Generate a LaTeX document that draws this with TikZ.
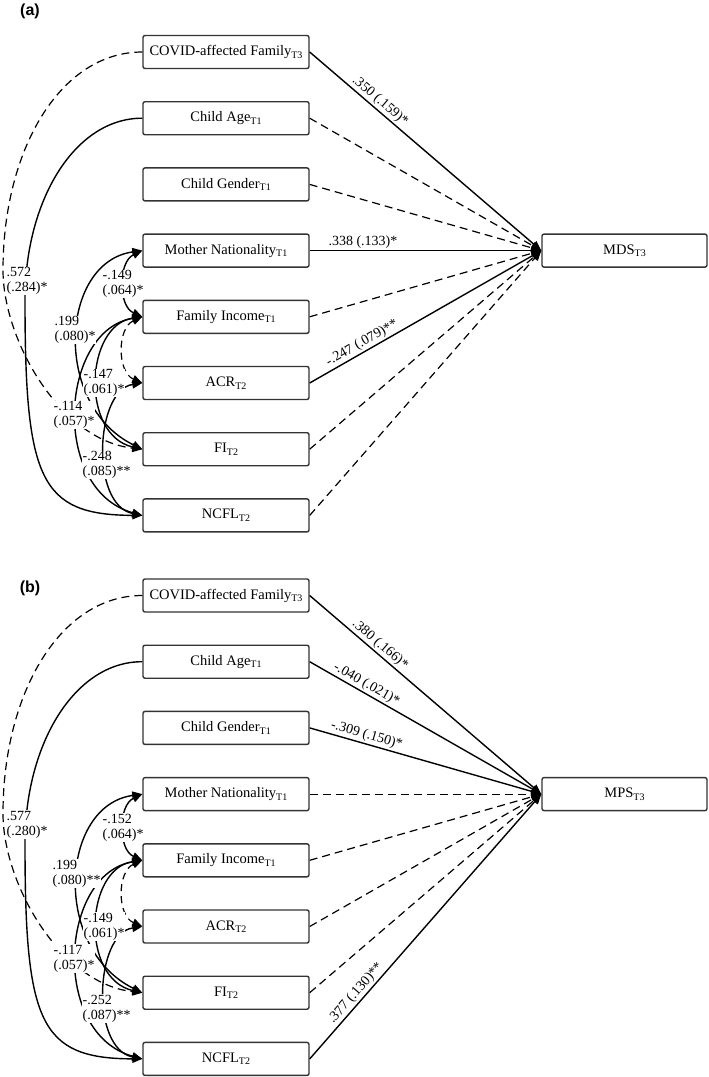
\documentclass[tikz,border=0pt]{standalone}
\usepackage{fontspec}
\setmainfont{Liberation Serif}
\newfontfamily\labfont{Liberation Sans}
\usetikzlibrary{arrows.meta,calc}
\newcommand\sub[1]{\raisebox{-2.5pt}{\fontsize{10}{10}\selectfont #1}}
\begin{document}
\begin{tikzpicture}[x=1pt,y=-1pt,
 box/.style={draw=black!80, line width=1.4pt, rounded corners=2pt, minimum width=166pt, minimum height=33pt, inner sep=0pt, font=\fontsize{14.5}{16}\selectfont},
 obox/.style={box, minimum width=165pt},
 conn/.style={line width=1.4pt, -{Triangle[length=10pt,width=8pt]}},
 dconn/.style={conn, line width=1.2pt, dash pattern=on 8pt off 5pt},
 cov/.style={line width=1.4pt, {Triangle[length=10pt,width=8pt]}-{Triangle[length=10pt,width=8pt]}},
 dcov/.style={cov, line width=1.2pt, dash pattern=on 7pt off 5pt},
 coef/.style={font=\fontsize{14}{15}\selectfont, fill=white, inner sep=0.5pt, align=left, anchor=west},
 elab/.style={font=\fontsize{14}{15}\selectfont, sloped, above, inner sep=1.5pt},
 plab/.style={font=\labfont\bfseries\fontsize{16}{18}\selectfont}
]
\useasboundingbox (0,0) rectangle (709,1077);

% ---------------- panel (a)
\node[plab] (pa) at (30,11) {(a)};
\node[box] (a1) at (226,52) {COVID-affected Family\sub{T3}};
\node[box] (a2) at (226,118.2) {Child Age\sub{T1}};
\node[box] (a3) at (226,184.4) {Child Gender\sub{T1}};
\node[box] (a4) at (226,250.6) {Mother Nationality\sub{T1}};
\node[box] (a5) at (226,316.8) {Family Income\sub{T1}};
\node[box] (a6) at (226,383) {ACR\sub{T2}};
\node[box] (a7) at (226,449.2) {FI\sub{T2}};
\node[box] (a8) at (226,515.4) {NCFL\sub{T2}};
\node[obox] (am) at (624.5,250.6) {MDS\sub{T3}};

\draw[conn] (a1.east) -- node[elab,pos=0.28]{.350 (.159)*} (am.west);
\draw[dconn] (a2.east) -- (am.west);
\draw[dconn] (a3.east) -- (am.west);
\draw[conn] (a4.east) -- node[elab,pos=0.23]{.338 (.133)*} (am.west);
\draw[dconn] (a5.east) -- (am.west);
\draw[conn] (a6.east) -- node[elab,pos=0.245]{-.247 (.079)**} (am.west);
\draw[dconn] (a7.east) -- (am.west);
\draw[dconn] (a8.east) -- (am.west);

\draw[dconn] (a1.west) .. controls (60,52) and (3,150) .. (3,270) .. controls (3,340) and (60,440) .. (a7.west);
\draw[conn] (a2.west) .. controls (75,118) and (25,200) .. (25,300) .. controls (25,480) and (40,515) .. (a8.west);
\draw[cov] (a4.west) .. controls (118,262) and (118,306) .. (a5.west);
\draw[dcov] (a5.west) .. controls (117,328) and (117,372) .. (a6.west);
\draw[cov] (a4.west) .. controls (60,262) and (52,405) .. (a7.west);
\draw[cov] (a5.west) .. controls (60,330) and (50,490) .. (a8.west);
\draw[cov] (a5.west) .. controls (85,325) and (80,435) .. (a7.west);
\draw[cov] (a6.west) .. controls (95,390) and (90,505) .. (a8.west);

\node[coef] (ka1) at (6,281) {.572\\(.284)*};
\node[coef] (ka2) at (102,284) {-.149\\(.064)*};
\node[coef] (ka3) at (54,330) {.199\\(.080)*};
\node[coef] (ka4) at (83,383) {-.147\\(.061)*};
\node[coef] (ka5) at (53,415) {-.114\\(.057)*};
\node[coef] (ka6) at (82,465) {-.248\\(.085)**};

% ---------------- panel (b)
\node[plab] (pb) at (30,588) {(b)};
\begin{scope}[yshift=-543.5pt]
\node[box] (b1) at (226,52) {COVID-affected Family\sub{T3}};
\node[box] (b2) at (226,118.2) {Child Age\sub{T1}};
\node[box] (b3) at (226,184.4) {Child Gender\sub{T1}};
\node[box] (b4) at (226,250.6) {Mother Nationality\sub{T1}};
\node[box] (b5) at (226,316.8) {Family Income\sub{T1}};
\node[box] (b6) at (226,383) {ACR\sub{T2}};
\node[box] (b7) at (226,449.2) {FI\sub{T2}};
\node[box] (b8) at (226,515.4) {NCFL\sub{T2}};
\node[obox] (bm) at (624.5,250.6) {MPS\sub{T3}};

\draw[conn] (b1.east) -- node[elab,pos=0.28]{.380 (.166)*} (bm.west);
\draw[conn] (b2.east) -- node[elab,pos=0.227]{-.040 (.021)*} (bm.west);
\draw[conn] (b3.east) -- node[elab,pos=0.236]{-.309 (.150)*} (bm.west);
\draw[dconn] (b4.east) -- (bm.west);
\draw[dconn] (b5.east) -- (bm.west);
\draw[dconn] (b6.east) -- (bm.west);
\draw[dconn] (b7.east) -- (bm.west);
\draw[conn] (b8.east) -- node[elab,pos=0.227]{.377 (.130)**} (bm.west);

\draw[dconn] (b1.west) .. controls (60,52) and (3,150) .. (3,270) .. controls (3,340) and (60,440) .. (b7.west);
\draw[conn] (b2.west) .. controls (75,118) and (25,200) .. (25,300) .. controls (25,480) and (40,515) .. (b8.west);
\draw[cov] (b4.west) .. controls (118,262) and (118,306) .. (b5.west);
\draw[dcov] (b5.west) .. controls (117,328) and (117,372) .. (b6.west);
\draw[cov] (b4.west) .. controls (60,262) and (52,405) .. (b7.west);
\draw[cov] (b5.west) .. controls (60,330) and (50,490) .. (b8.west);
\draw[cov] (b5.west) .. controls (85,325) and (80,435) .. (b7.west);
\draw[cov] (b6.west) .. controls (95,390) and (90,505) .. (b8.west);

\node[coef] (kb1) at (6,281) {.577\\(.280)*};
\node[coef] (kb2) at (102,284) {-.152\\(.064)*};
\node[coef] (kb3) at (52,330) {.199\\(.080)**};
\node[coef] (kb4) at (83,383) {-.149\\(.061)*};
\node[coef] (kb5) at (53,415) {-.117\\(.057)*};
\node[coef] (kb6) at (82,465) {-.252\\(.087)**};
\end{scope}
\end{tikzpicture}
\end{document}
